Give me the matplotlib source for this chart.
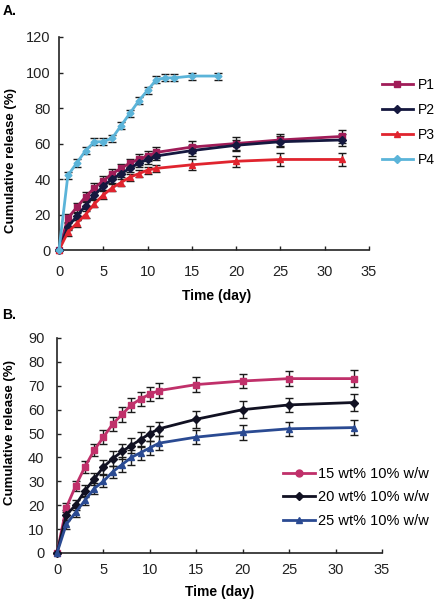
import matplotlib
matplotlib.use("Agg")
import matplotlib.pyplot as plt
from matplotlib.lines import Line2D

plt.rcParams['font.family'] = ['Liberation Sans', 'DejaVu Sans']

# ---------------- Panel A data ----------------
t_a = [0, 1, 2, 3, 4, 5, 6, 7, 8, 9, 10, 11, 15, 20, 25, 32]
p1 = [0, 18, 24, 30, 35, 39, 43, 46, 49, 51, 53, 55, 58, 60, 62, 64]
p1_err = [0, 2.5, 2.5, 2.5, 2.5, 2.5, 2.5, 2.5, 2.5, 3, 3, 3, 3.5, 3.5, 3.5, 3.5]
p2 = [0, 13, 19, 25, 31, 36, 40, 43, 46, 49, 51, 53, 56, 59, 61, 62]
p2_err = [0, 2, 2, 2, 2, 2, 2, 2, 2, 2.5, 2.5, 2.5, 3, 3, 3, 3.5]
p3 = [0, 10, 15, 20, 26, 31, 35, 38, 41, 43, 45, 46, 48, 50, 51, 51]
p3_err = [0, 2, 2, 2, 2, 2, 2, 2, 2, 2, 2, 2, 3, 3, 3.5, 3.5]
t_p4 = [0, 1, 2, 3, 4, 5, 6, 7, 8, 9, 10, 11, 12, 13, 15, 18]
p4 = [0, 42, 49, 56, 61, 61, 63, 70, 77, 84, 90, 96, 97, 97, 98, 98]
p4_err = [0, 2, 2, 2, 2, 2, 2, 2, 2, 2, 2, 2, 2, 2, 2, 2]

# ---------------- Panel B data ----------------
t_b = [0, 1, 2, 3, 4, 5, 6, 7, 8, 9, 10, 11, 15, 20, 25, 32]
b15 = [0, 19, 28, 36, 43, 48.5, 54, 58, 62, 64.5, 66.5, 68, 70.5, 72, 73, 73]
b15_err = [0, 2, 2, 2.5, 2.5, 3, 3, 3, 3, 3, 3, 3, 3, 3, 3, 3.5]
b20 = [0, 16, 20, 26, 31, 36, 39.5, 42.5, 45, 47.5, 50, 52, 56, 60, 62, 63]
b20_err = [0, 2, 2, 2.5, 2.5, 3, 3, 3, 3, 3, 3, 3, 3.5, 3.5, 3, 3.5]
b25 = [0, 12, 17, 22, 27, 30, 34, 37, 40, 42, 44, 46, 48.5, 50.5, 52, 52.5]
b25_err = [0, 2, 2, 2, 2.5, 2.5, 2.5, 3, 3, 3, 3, 3, 3, 3, 3, 3]

labels_a = ['P1', 'P2', 'P3', 'P4']
labels_b = ['15 wt% 10% w/w', '20 wt% 10% w/w', '25 wt% 10% w/w']
xticks = [0, 5, 10, 15, 20, 25, 30, 35]

W, H = 437, 601
fig = plt.figure(figsize=(W / 100, H / 100), dpi=100)

def style(ax, ymax, ystep, xpad, ypad):
    ax.set_xlim(0, 35)
    ax.set_ylim(0, ymax)
    ax.set_xticks(xticks)
    ax.set_yticks(range(0, ymax + 1, ystep))
    for s in ['top', 'right']:
        ax.spines[s].set_visible(False)
    for s in ['left', 'bottom']:
        ax.spines[s].set_linewidth(1.2)
        ax.spines[s].set_color('#222222')
    ax.tick_params(direction='in', length=3, width=1, labelsize=10.5, colors='#222222')
    ax.tick_params(axis='x', pad=xpad)
    ax.tick_params(axis='y', pad=ypad)
    ax.set_xlabel('Time (day)', fontsize=10, fontweight='bold')
    ax.set_ylabel('Cumulative release (%)', fontsize=9.5, fontweight='bold')

def series(ax, x, y, e, color, marker, ms, label):
    ax.errorbar(x, y, yerr=e, color=color, marker=marker, markersize=ms, lw=2,
                ecolor='#1a1a1a', elinewidth=1, capsize=3, capthick=1, label=label,
                clip_on=False, zorder=3)

# Panel A
a_l, a_r, a_b, a_t = 59, 369, 250, 37
axA = fig.add_axes([a_l / W, 1 - a_b / H, (a_r - a_l) / W, (a_b - a_t) / H])
style(axA, 120, 20, 11, 6)
axA.xaxis.set_label_coords(0.51, -(289 - a_b) / (a_b - a_t))
axA.yaxis.set_label_coords((17 - a_l) / (a_r - a_l), 0.42)
cA = ['#a01c58', '#15183f', '#e0242e', '#5bb4d9']
series(axA, t_a, p1, p1_err, cA[0], 's', 5, labels_a[0])
series(axA, t_a, p2, p2_err, cA[1], 'D', 4, labels_a[1])
series(axA, t_a, p3, p3_err, cA[2], '^', 5, labels_a[2])
series(axA, t_p4, p4, p4_err, cA[3], 'D', 3.5, labels_a[3])
hA = [Line2D([], [], color=c, marker=m, markersize=ms, lw=2)
      for c, m, ms in zip(cA, ['s', 'D', '^', 'D'], [5, 4, 5, 4])]
fig.legend(hA, labels_a, loc='upper left', bbox_to_anchor=(382 / W, 1 - 78 / H),
           frameon=False, fontsize=10, handlelength=2.2, handletextpad=0.35,
           labelspacing=0.8, borderpad=0, borderaxespad=0)
fig.text(0.005, 0.993, 'A.', fontsize=10, fontweight='bold', va='top', ha='left')

# Panel B
b_l, b_r, b_b, b_t = 57, 382, 553, 338
axB = fig.add_axes([b_l / W, 1 - b_b / H, (b_r - b_l) / W, (b_b - b_t) / H])
style(axB, 90, 10, 7, 9)
axB.xaxis.set_label_coords(0.5, -(585 - b_b) / (b_b - b_t))
axB.yaxis.set_label_coords((16 - b_l) / (b_r - b_l), 0.56)
cB = ['#c0306a', '#111122', '#2a4a92']
series(axB, t_b, b15, b15_err, cB[0], 's', 5, labels_b[0])
series(axB, t_b, b20, b20_err, cB[1], 'D', 4, labels_b[1])
series(axB, t_b, b25, b25_err, cB[2], '^', 5, labels_b[2])
hB = [Line2D([], [], color=c, marker=m, markersize=ms, lw=2)
      for c, m, ms in zip(cB, ['o', 'D', '^'], [5, 4, 5])]
fig.legend(hB, labels_b, loc='upper left', bbox_to_anchor=(283 / W, 1 - 467 / H),
           frameon=False, fontsize=10.5, handlelength=2.2, handletextpad=0.2,
           labelspacing=0.65, borderpad=0, borderaxespad=0)
fig.text(0.005, 1 - 308 / H, 'B.', fontsize=10, fontweight='bold', va='top', ha='left')

fig.savefig('out.png', dpi=100)
